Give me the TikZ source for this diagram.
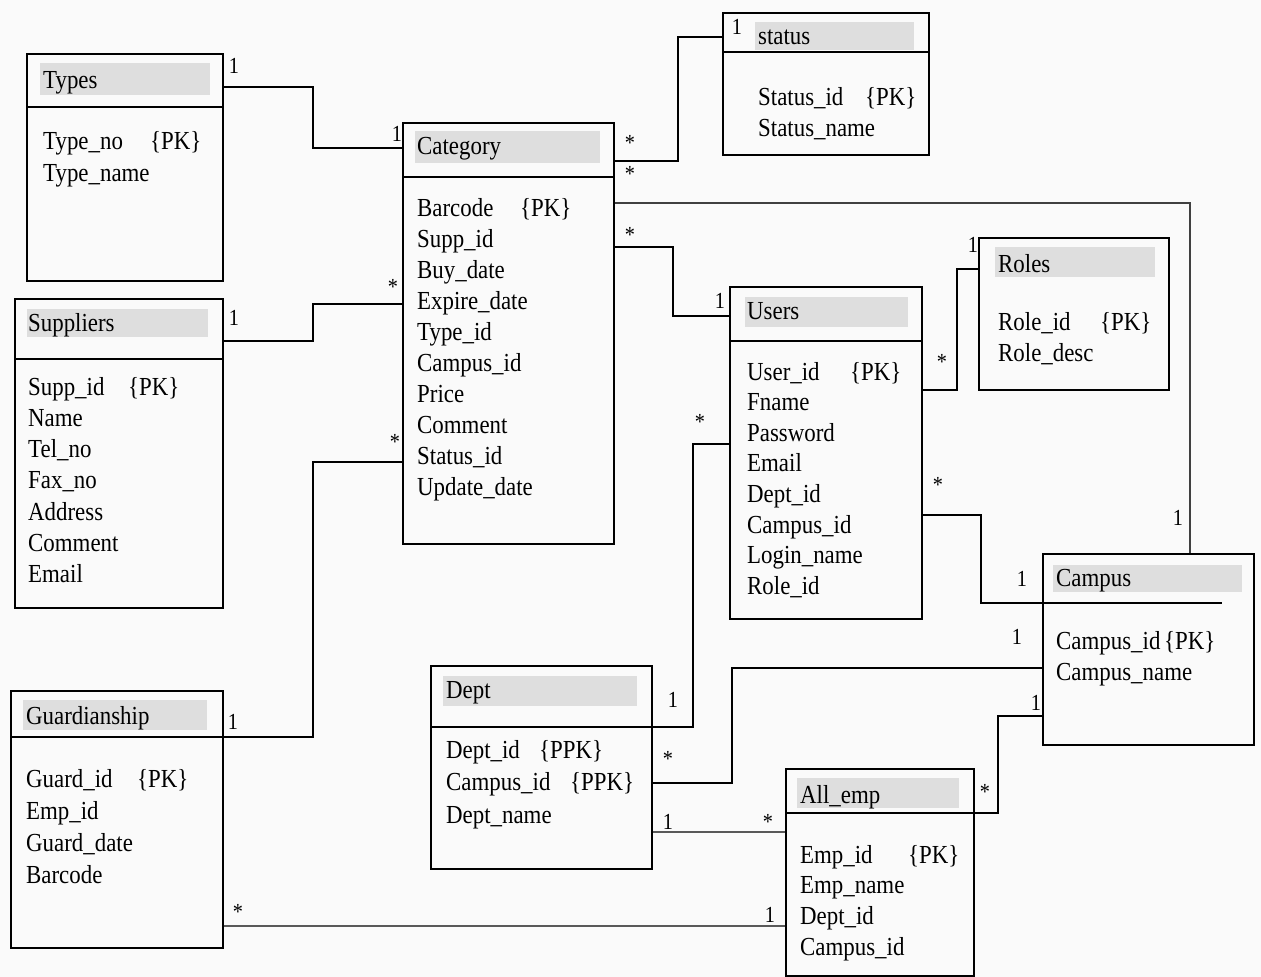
\documentclass[tikz,border=0pt]{standalone}
\usepackage{fontspec}
\setmainfont{Liberation Serif}[FakeStretch=0.88]
\newcommand{\fld}[3]{\makebox[#1][l]{#2}#3}
\begin{document}
\begin{tikzpicture}[x=1pt,y=-1pt,
  box/.style={draw, line width=1.6pt, inner sep=0pt, anchor=north west},
  band/.style={fill=black!13, draw=none},
  txt/.style={anchor=base west, inner sep=0pt, font=\fontsize{26}{30}\selectfont},
  mult/.style={inner sep=0pt, font=\fontsize{23}{26}\selectfont},
  conn/.style={line width=1.6pt},
]
\useasboundingbox (0,0) rectangle (1261,977);
\fill[black!2] (0,0) rectangle (1261,977);

% ---------- header bands ----------
\fill[band] (40,63) rectangle (210,95);
\fill[band] (415,131) rectangle (600,163);
\fill[band] (755,22) rectangle (914,50);
\fill[band] (995,247) rectangle (1155,277);
\fill[band] (745,297) rectangle (908,327);
\fill[band] (1053,565) rectangle (1242,592);
\fill[band] (27,309) rectangle (208,337);
\fill[band] (23,700) rectangle (207,730);
\fill[band] (443,676) rectangle (637,706);
\fill[band] (797,778) rectangle (959,808);

% ---------- class boxes ----------
\node[box, minimum width=196pt, minimum height=227pt] (types) at (26,53) {};
\node[box, minimum width=211pt, minimum height=421pt] (cat) at (402,122) {};
\node[box, minimum width=206pt, minimum height=142pt] (status) at (722,12) {};
\node[box, minimum width=190pt, minimum height=152pt] (roles) at (978,237) {};
\node[box, minimum width=192pt, minimum height=332pt] (users) at (729,286) {};
\node[box, minimum width=211pt, minimum height=191pt] (campus) at (1042,553) {};
\node[box, minimum width=208pt, minimum height=309pt] (supp) at (14,298) {};
\node[box, minimum width=212pt, minimum height=257pt] (guard) at (10,690) {};
\node[box, minimum width=221pt, minimum height=203pt] (dept) at (430,665) {};
\node[box, minimum width=188pt, minimum height=207pt] (emp) at (785,768) {};

% ---------- dividers ----------
\draw[conn] (types.west |- 0,107) -- (types.east |- 0,107);
\draw[conn] (cat.west |- 0,177) -- (cat.east |- 0,177);
\draw[conn] (status.west |- 0,52) -- (status.east |- 0,52);
\draw[conn] (users.west |- 0,341) -- (users.east |- 0,341);
\draw[conn] (campus.west |- 0,603) -- (1222,603);
\draw[conn] (supp.west |- 0,359) -- (supp.east |- 0,359);
\draw[conn] (guard.west |- 0,737) -- (guard.east |- 0,737);
\draw[conn] (dept.west |- 0,727) -- (dept.east |- 0,727);
\draw[conn] (emp.west |- 0,813) -- (emp.east |- 0,813);

% ---------- titles ----------
\node[txt] (t-types) at (43,88) {Types};
\node[txt] (t-cat) at (417,154) {Category};
\node[txt] (t-status) at (758,44) {status};
\node[txt] (t-roles) at (998,272) {Roles};
\node[txt] (t-users) at (747,319) {Users};
\node[txt] (t-campus) at (1056,586) {Campus};
\node[txt] (t-supp) at (28,331) {Suppliers};
\node[txt] (t-guard) at (26,724) {Guardianship};
\node[txt] (t-dept) at (446,698) {Dept};
\node[txt] (t-emp) at (800,803) {All\_emp};

% ---------- attributes ----------
\node[txt] (a-types1) at (43,149) {\fld{107pt}{Type\_no}{\{PK\}}};
\node[txt] (a-types2) at (43,181) {Type\_name};

\foreach \t [count=\i] in {{\fld{103pt}{Barcode}{\{PK\}}},Supp\_id,Buy\_date,Expire\_date,Type\_id,Campus\_id,Price,Comment,Status\_id,Update\_date}
  \node[txt] (a-cat\i) at (417,{216+31*(\i-1)}) {\t};

\node[txt] (a-status1) at (758,105) {\fld{107pt}{Status\_id}{\{PK\}}};
\node[txt] (a-status2) at (758,136) {Status\_name};

\node[txt] (a-roles1) at (998,330) {\fld{102pt}{Role\_id}{\{PK\}}};
\node[txt] (a-roles2) at (998,361) {Role\_desc};

\foreach \t [count=\i] in {{\fld{103pt}{User\_id}{\{PK\}}},Fname,Password,Email,Dept\_id,Campus\_id,Login\_name,Role\_id}
  \node[txt] (a-users\i) at (747,{380+30.6*(\i-1)}) {\t};

\node[txt] (a-campus1) at (1056,649) {\fld{108pt}{Campus\_id}{\{PK\}}};
\node[txt] (a-campus2) at (1056,680) {Campus\_name};

\foreach \t [count=\i] in {{\fld{100pt}{Supp\_id}{\{PK\}}},Name,Tel\_no,Fax\_no,Address,Comment,Email}
  \node[txt] (a-supp\i) at (28,{395+31.3*(\i-1)}) {\t};

\foreach \t [count=\i] in {{\fld{111pt}{Guard\_id}{\{PK\}}},Emp\_id,Guard\_date,Barcode}
  \node[txt] (a-guard\i) at (26,{787+32*(\i-1)}) {\t};

\node[txt] (a-dept1) at (446,758) {\fld{93pt}{Dept\_id}{\{PPK\}}};
\node[txt] (a-dept2) at (446,790) {\fld{124pt}{Campus\_id}{\{PPK\}}};
\node[txt] (a-dept3) at (446,823) {Dept\_name};

\foreach \t [count=\i] in {{\fld{108pt}{Emp\_id}{\{PK\}}},Emp\_name,Dept\_id,Campus\_id}
  \node[txt] (a-emp\i) at (800,{863+30.7*(\i-1)}) {\t};

% ---------- connectors ----------
\draw[conn] (types.east |- 0,87) -- (313,87) |- (cat.west |- 0,148);
\draw[conn] (supp.east |- 0,341) -- (313,341) |- (cat.west |- 0,304);
\draw[conn] (guard.east |- 0,737) -- (313,737) |- (cat.west |- 0,462);
\draw[conn, black!65] (guard.east |- 0,926) -- (emp.west |- 0,926);
\draw[conn] (cat.east |- 0,161) -- (678,161) |- (status.west |- 0,37);
\draw[conn, black!75] (cat.east |- 0,203) -| (campus.north -| 1190,0);
\draw[conn] (cat.east |- 0,247) -- (673,247) |- (users.west |- 0,316);
\draw[conn] (users.east |- 0,390) -- (957,390) |- (roles.west |- 0,269);
\draw[conn] (users.east |- 0,515) -- (981,515) |- (campus.west |- 0,603);
\draw[conn] (dept.east |- 0,727) -- (693,727) |- (users.west |- 0,444);
\draw[conn] (dept.east |- 0,783) -- (732,783) |- (campus.west |- 0,668);
\draw[conn, black!65] (dept.east |- 0,832) -- (emp.west |- 0,832);
\draw[conn] (emp.east |- 0,813) -- (998,813) |- (campus.west |- 0,716);

% ---------- multiplicities ----------
\node[mult] (m1) at (234,66) {1};
\node[mult] (m2) at (397,134) {1};
\node[mult] (m3) at (234,318) {1};
\node[mult] (m4) at (393,287) {*};
\node[mult] (m5) at (233,722) {1};
\node[mult] (m6) at (395,442) {*};
\node[mult] (m7) at (238,912) {*};
\node[mult] (m8) at (770,915) {1};
\node[mult] (m9) at (630,143) {*};
\node[mult] (m10) at (737,27) {1};
\node[mult] (m11) at (630,174) {*};
\node[mult] (m12) at (1178,518) {1};
\node[mult] (m13) at (630,235) {*};
\node[mult] (m14) at (720,301) {1};
\node[mult] (m15) at (942,362) {*};
\node[mult] (m16) at (973,245) {1};
\node[mult] (m17) at (938,485) {*};
\node[mult] (m18) at (1022,579) {1};
\node[mult] (m19) at (673,700) {1};
\node[mult] (m20) at (700,422) {*};
\node[mult] (m21) at (668,759) {*};
\node[mult] (m22) at (1017,637) {1};
\node[mult] (m23) at (668,822) {1};
\node[mult] (m24) at (768,822) {*};
\node[mult] (m25) at (985,792) {*};
\node[mult] (m26) at (1036,703) {1};
\end{tikzpicture}
\end{document}
